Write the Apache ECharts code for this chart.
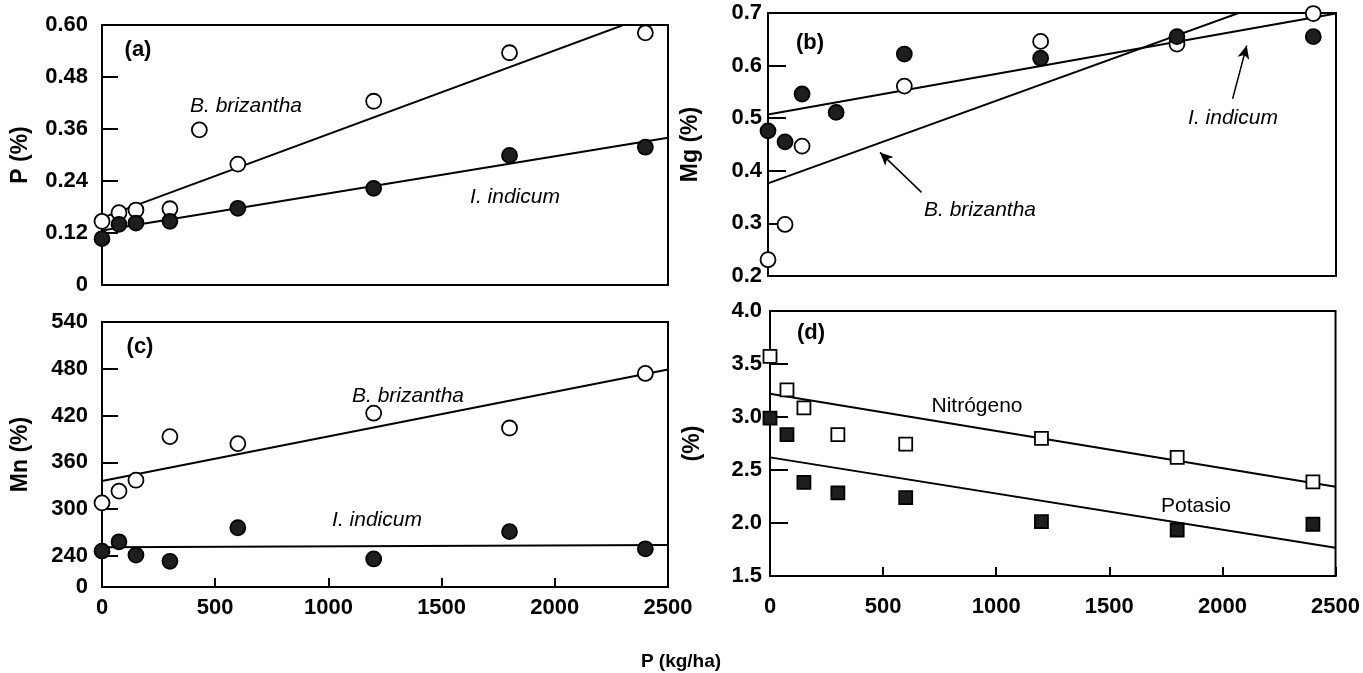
<!DOCTYPE html>
<html>
<head>
<meta charset="utf-8">
<script src="https://cdn.jsdelivr.net/npm/echarts@6/dist/echarts.min.js"></script>
<style>
html,body{margin:0;padding:0;background:#fff;}
#chart{width:1363px;height:673px;}
</style>
</head>
<body>
<div id="chart"></div>
<script>
// ---- data ----
const rates = [0, 75, 150, 300, 600, 1200, 1800, 2400];
const ratesA_briz = [0, 75, 150, 300, 430, 600, 1200, 1800, 2400];
const ratesB_briz = [0, 75, 150, 600, 1200, 1800, 2400];

// (a) P (%)
const pBriz = [0.147, 0.167, 0.173, 0.176, 0.358, 0.279, 0.424, 0.536, 0.582];
const pInd = [0.107, 0.140, 0.143, 0.147, 0.177, 0.223, 0.299, 0.318];
const pBrizFit = [[0, 0.155], [2500, 0.638]];
const pIndFit = [[0, 0.126], [2500, 0.340]];

// (b) Mg (%)
const mgBriz = [0.231, 0.298, 0.447, 0.561, 0.646, 0.641, 0.699];
const mgInd = [0.476, 0.455, 0.546, 0.511, 0.622, 0.614, 0.655, 0.655];
const mgBrizFit = [[0, 0.376], [2500, 0.767]];
const mgIndFit = [[0, 0.507], [2500, 0.699]];
const arrowBriz = [[676, 0.359], [493, 0.435]];
const arrowInd = [[2045, 0.537], [2107, 0.638]];

// (c) Mn
const mnBriz = [308, 323, 337, 393, 384, 423, 404, 474];
const mnInd = [246, 258, 241, 233, 276, 236, 271, 249];
const mnBrizFit = [[0, 336], [2500, 479]];
const mnIndFit = [[0, 251], [2500, 254]];

// (d) N and K (%)
const nitro = [3.572, 3.256, 3.086, 2.833, 2.745, 2.799, 2.619, 2.388];
const potasio = [2.989, 2.833, 2.383, 2.284, 2.240, 2.013, 1.934, 1.988];
const nFit = [[0, 3.219], [2500, 2.341]];
const kFit = [[0, 2.619], [2500, 1.767]];

// tick labels
const xTicks = [0, 500, 1000, 1500, 2000, 2500];
const mnLabels = [200, 240, 300, 360, 420, 480, 540]; // bottom (200) is shown as "0" (axis break)
const mnTicks = [240, 300, 360, 420, 480, 540];

// ---- helpers ----
const FONT = '"Liberation Sans", Arial, Helvetica, sans-serif';
const LBL = { fontSize: 22, fontWeight: 'bold', color: '#000', fontFamily: FONT };
const zip = (xs, ys) => xs.map((x, i) => [x, ys[i]]);
const chart = echarts.init(document.getElementById('chart'));

function xAx(grid, showLabels, labelMargin) {
  return {
    type: 'value', gridIndex: grid, min: 0, max: 2500, interval: 500,
    axisLine: { show: true, lineStyle: { color: '#000', width: 2 } },
    axisTick: { show: showLabels, inside: true, length: 9, lineStyle: { color: '#000', width: 2 } },
    axisLabel: Object.assign({ show: showLabels, margin: labelMargin, customValues: xTicks,
      formatter: v => String(v) }, LBL),
    splitLine: { show: false }
  };
}
function yAx(grid, cfg) {
  return Object.assign({
    type: 'value', gridIndex: grid,
    nameLocation: 'middle', nameRotate: 90,
    nameTextStyle: { fontSize: 23, fontWeight: 'bold', color: '#000', fontFamily: FONT },
    axisLine: { show: true, lineStyle: { color: '#000', width: 2 } },
    axisTick: { inside: true, length: 16, lineStyle: { color: '#000', width: 2 } },
    splitLine: { show: false }
  }, cfg);
}
function fitLine(gi, data, extra) {
  return Object.assign({
    type: 'line', xAxisIndex: gi, yAxisIndex: gi, data: data, showSymbol: false, symbol: 'none',
    lineStyle: { color: '#000', width: 2 }, clip: true, z: 2, silent: true
  }, extra || {});
}
function scat(gi, data, filled, shape) {
  return {
    type: 'scatter', xAxisIndex: gi, yAxisIndex: gi, data: data,
    symbol: shape || 'circle', symbolSize: shape === 'rect' ? 13 : 15,
    itemStyle: { color: filled ? '#1e1e1e' : '#fff', borderColor: '#000', borderWidth: 1.8, opacity: 1 },
    z: filled ? 4 : 3
  };
}
function txt(s, x, y, style, size) {
  return { type: 'text', x: x, y: y, z: 10,
    style: { text: s, fontSize: size || 21, fontFamily: FONT, fontStyle: style === 'italic' ? 'italic' : 'normal',
      fontWeight: style === 'bold' ? 'bold' : 'normal', fill: '#000', align: 'center', verticalAlign: 'middle' } };
}

const option = {
  backgroundColor: '#fff',
  animation: false,
  grid: [
    { left: 102, top: 25, width: 566, height: 260, show: true, borderColor: '#000', borderWidth: 2 },
    { left: 768, top: 13, width: 568, height: 263, show: true, borderColor: '#000', borderWidth: 2 },
    { left: 102, top: 322, width: 566, height: 265, show: true, borderColor: '#000', borderWidth: 2 },
    { left: 770, top: 311, width: 568, height: 265, show: true, borderColor: '#000', borderWidth: 2 }
  ],
  xAxis: [xAx(0, false, 10), xAx(1, false, 10), xAx(2, true, 10), xAx(3, true, 20)],
  yAxis: [
    yAx(0, { name: 'P (%)', nameGap: 70, min: 0, max: 0.6, interval: 0.12,
      axisLabel: Object.assign({ margin: 14, formatter: v => v === 0 ? '0' : v.toFixed(2) }, LBL) }),
    yAx(1, { name: 'Mg (%)', nameGap: 66, min: 0.2, max: 0.7, interval: 0.1,
      axisTick: { inside: true, length: 18, lineStyle: { color: '#000', width: 2 } },
      axisLabel: Object.assign({ margin: 6, formatter: v => v.toFixed(1) }, LBL) }),
    yAx(2, { name: 'Mn (%)', nameGap: 70, min: 200, max: 540, interval: 20,
      axisTick: { inside: true, length: 16, customValues: mnTicks, lineStyle: { color: '#000', width: 2 } },
      axisLabel: Object.assign({ margin: 14, customValues: mnLabels,
        formatter: v => v === 200 ? '0' : String(v) }, LBL) }),
    yAx(3, { name: '(%)', nameGap: 66, min: 1.5, max: 4.0, interval: 0.5,
      axisTick: { inside: true, length: 18, lineStyle: { color: '#000', width: 2 } },
      axisLabel: Object.assign({ margin: 8, formatter: v => v.toFixed(1) }, LBL) })
  ],
  series: [
    // (a)
    fitLine(0, pBrizFit), fitLine(0, pIndFit),
    scat(0, zip(ratesA_briz, pBriz), false), scat(0, zip(rates, pInd), true),
    // (b)
    fitLine(1, mgBrizFit, {
      markLine: { silent: true, symbol: ['none', 'arrow'], symbolSize: [9, 13], label: { show: false },
        lineStyle: { color: '#000', width: 1.5, type: 'solid' },
        data: [
          [{ coord: arrowBriz[0] }, { coord: arrowBriz[1] }],
          [{ coord: arrowInd[0] }, { coord: arrowInd[1] }]
        ] }
    }),
    fitLine(1, mgIndFit),
    scat(1, zip(ratesB_briz, mgBriz), false), scat(1, zip(rates, mgInd), true),
    // (c)
    fitLine(2, mnBrizFit), fitLine(2, mnIndFit),
    scat(2, zip(rates, mnBriz), false), scat(2, zip(rates, mnInd), true),
    // (d)
    fitLine(3, nFit), fitLine(3, kFit),
    scat(3, zip(rates, nitro), false, 'rect'), scat(3, zip(rates, potasio), true, 'rect')
  ],
  graphic: [
    txt('(a)', 138, 50, 'bold', 22),
    txt('B. brizantha', 246, 106, 'italic'),
    txt('I. indicum', 515, 197, 'italic'),
    txt('(b)', 810, 43, 'bold', 22),
    txt('B. brizantha', 980, 210, 'italic'),
    txt('I. indicum', 1233, 118, 'italic'),
    txt('(c)', 140, 347, 'bold', 22),
    txt('B. brizantha', 408, 396, 'italic'),
    txt('I. indicum', 377, 520, 'italic'),
    txt('(d)', 811, 333, 'bold', 22),
    txt('Nitrógeno', 977, 406, 'normal'),
    txt('Potasio', 1196, 506, 'normal'),
    txt('P (kg/ha)', 681, 662, 'bold', 19)
  ]
};
chart.setOption(option);
</script>
</body>
</html>
